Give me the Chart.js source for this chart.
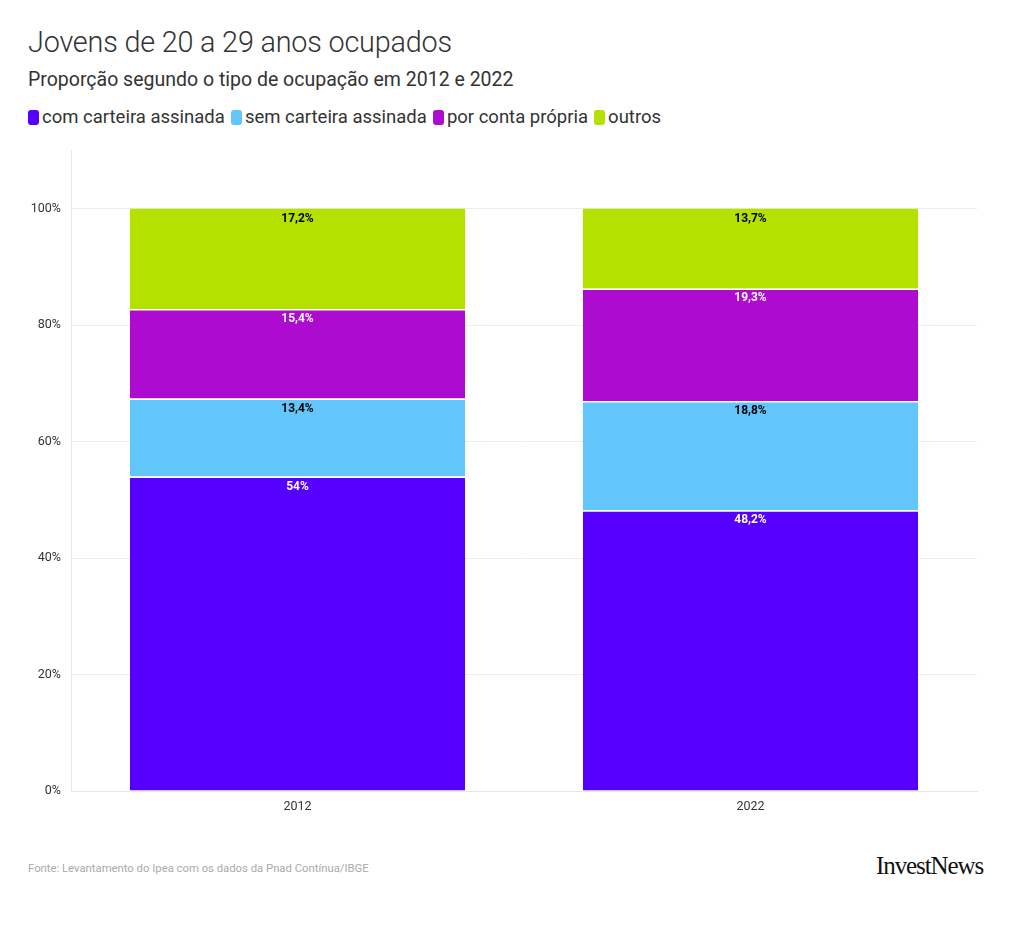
<!DOCTYPE html>
<html><head><meta charset="utf-8">
<script src="https://cdn.jsdelivr.net/npm/chart.js@4"></script>
<style>
body{margin:0;background:#fff;width:1020px;height:934px;position:relative;overflow:hidden;font-family:Roboto,sans-serif}
#title{position:absolute;left:28px;top:25px;font-size:28.8px;font-weight:300;color:#333;white-space:nowrap;letter-spacing:-0.2px}
#sub{position:absolute;left:28px;top:68px;font-size:19.5px;color:#333;white-space:nowrap}
#legend{position:absolute;left:28px;top:106px;font-size:18.5px;color:#333;white-space:nowrap;display:flex;align-items:center}
#legend span.i{display:inline-flex;align-items:center;margin-right:6px}
#legend span.b{display:inline-block;width:11px;height:15px;border-radius:3px;margin-right:3px}
#wrap{position:absolute;left:0;top:133px;width:990px;height:697px}
#foot{position:absolute;left:28px;top:862px;font-size:11.3px;color:#aaa;white-space:nowrap}
#logo{position:absolute;left:876px;top:852px;font-family:"Liberation Serif",serif;font-size:25px;color:#111;letter-spacing:-1.1px;white-space:nowrap}
</style></head><body>
<div id="title">Jovens de 20 a 29 anos ocupados</div>
<div id="sub">Proporção segundo o tipo de ocupação em 2012 e 2022</div>
<div id="legend"></div>
<div id="wrap"><canvas id="c"></canvas></div>
<div id="foot">Fonte: Levantamento do Ipea com os dados da Pnad Contínua/IBGE</div>
<div id="logo">InvestNews</div>
<script>
const categories = ["2012", "2022"];
const seriesNames = ["com carteira assinada", "sem carteira assinada", "por conta própria", "outros"];
const comCarteira = [54, 48.2];
const semCarteira = [13.4, 18.8];
const contaPropria = [15.4, 19.3];
const outros = [17.2, 13.7];
const yTicks = [0, 20, 40, 60, 80, 100];
const colors = ["#5500ff", "#62c6fa", "#ae0bd1", "#b5e100"];
const labelColors = ["#ffffff", "#000000", "#ffffff", "#000000"];

const values = [comCarteira, semCarteira, contaPropria, outros];
const lg = document.getElementById('legend');
seriesNames.forEach((n,i)=>{
  const s=document.createElement('span');s.className='i';
  s.innerHTML='<span class="b" style="background:'+colors[i]+'"></span>'+n;
  lg.appendChild(s);
});

const labelPlugin = {
  id:'segLabels',
  afterDatasetsDraw(chart){
    const ctx=chart.ctx;
    ctx.save();
    ctx.font='bold 12px Roboto, sans-serif';
    ctx.textAlign='center';ctx.textBaseline='middle';
    chart.data.datasets.forEach((ds,di)=>{
      const meta=chart.getDatasetMeta(di);
      meta.data.forEach((el,j)=>{
        const v=ds.data[j];
        ctx.fillStyle=labelColors[di];
        ctx.fillText(String(v).replace('.',',')+'%', el.x, el.y+10);
      });
    });
    ctx.restore();
  }
};

new Chart(document.getElementById('c'),{
  type:'bar',
  data:{labels:categories,datasets:values.map((d,i)=>({
    label:seriesNames[i],data:d,backgroundColor:colors[i],
    borderColor:'#ffffff',borderWidth:{top:i<3?1.5:0,left:0,right:0,bottom:0},borderSkipped:false,
    barPercentage:0.74,categoryPercentage:1
  }))},
  options:{
    responsive:true,maintainAspectRatio:false,animation:false,
    layout:{padding:{top:0,right:13,left:0,bottom:0}},
    plugins:{legend:{display:false},tooltip:{enabled:false}},
    scales:{
      x:{stacked:true,
        grid:{display:false,drawTicks:false},
        border:{color:'#e6e6e6'},
        ticks:{color:'#333',font:{family:'Roboto',size:12.5},padding:8},
        afterFit(s){s.height=39;}
      },
      y:{stacked:true,min:0,max:110,
        afterBuildTicks(s){s.ticks=yTicks.map(v=>({value:v}));},
        grid:{color:'#ececec',drawTicks:false},
        border:{color:'#e6e6e6'},
        ticks:{color:'#333',font:{family:'Roboto',size:12.5},padding:10,callback:v=>v+'%'},
        afterFit(s){s.width=71;}
      }
    }
  },
  plugins:[labelPlugin]
});
</script>
</body></html>
